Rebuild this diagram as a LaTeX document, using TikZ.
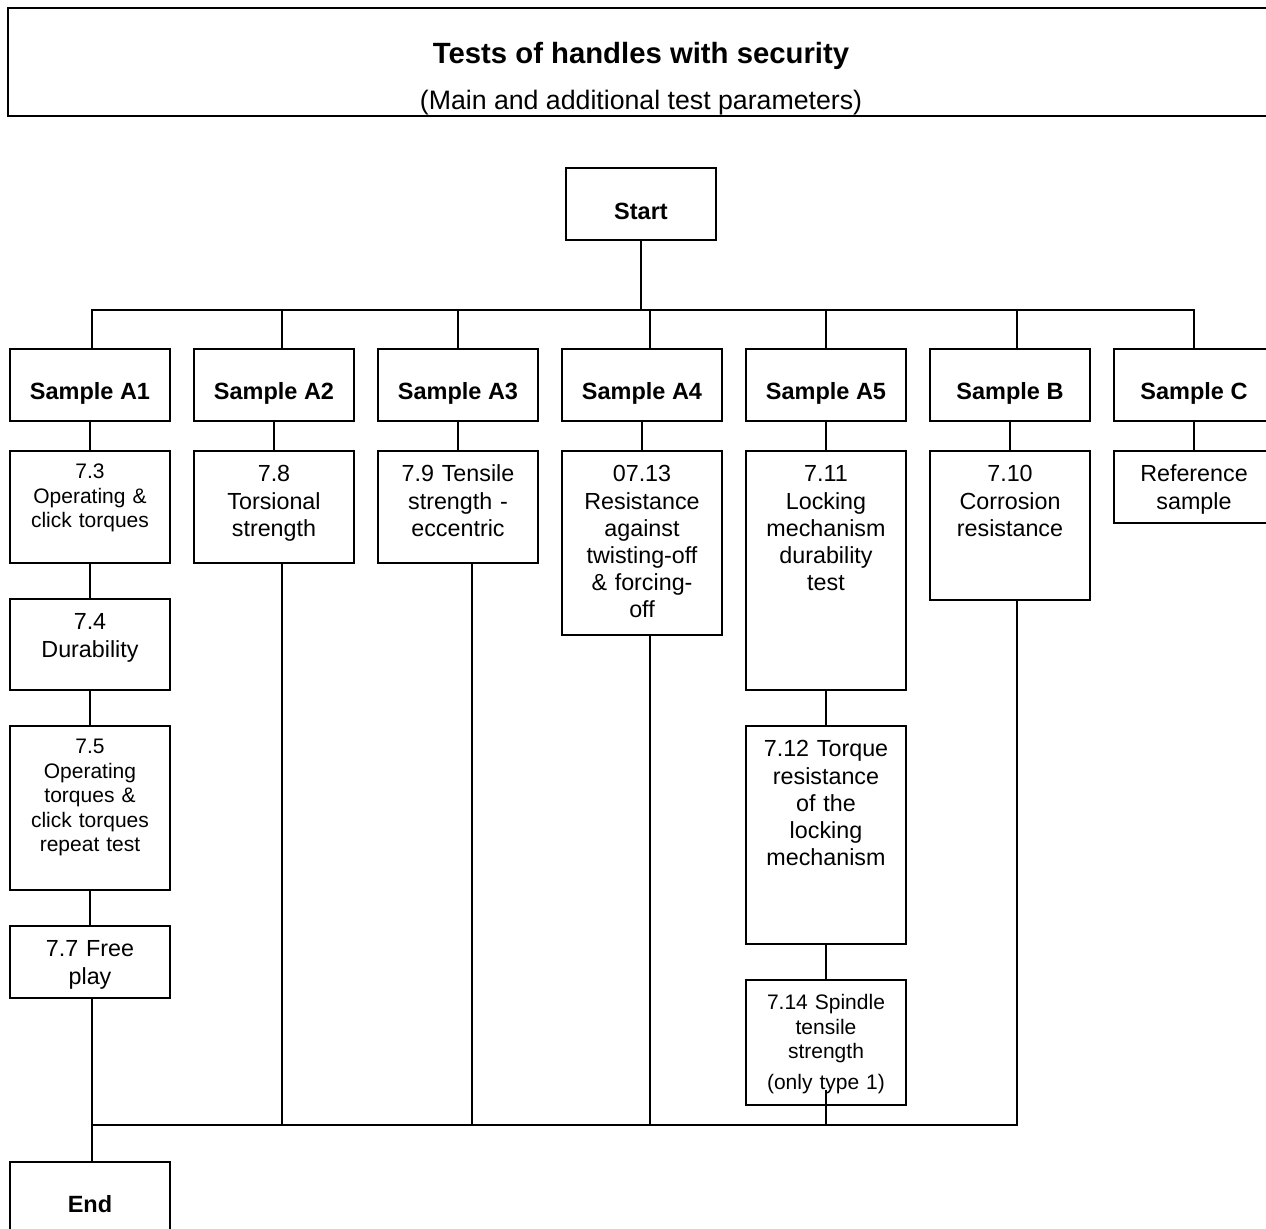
\documentclass[tikz,border=0pt]{standalone}
\usepackage{fontspec}
\setmainfont{Liberation Sans}
\usetikzlibrary{positioning}
\begin{document}
\begin{tikzpicture}[
	x=0.5pt,
	y=-0.5pt,
	line width=1pt,
	font=\fontsize{11.65}{13.6}\selectfont,
	node distance=18pt,
	ttl/.style={font=\fontsize{14.65}{17}\selectfont\bfseries, anchor=base, inner sep=0pt},
	sub/.style={font=\fontsize{13.35}{16}\selectfont, anchor=base, inner sep=0pt},
	smp/.style={draw, anchor=north west, outer sep=0pt, minimum width=80pt, minimum height=36pt, inner sep=0pt, text height=15pt, text depth=0pt, font=\fontsize{11.75}{14}\selectfont\bfseries},
	tst/.style={draw, outer sep=0pt, text width=76pt, align=center, inner xsep=2pt, inner ysep=0pt, text height=15.5pt, text depth=#1},
	sml/.style={font=\fontsize{10.5}{12.25}\selectfont, text height=14pt},
	]
\useasboundingbox (0,0) rectangle (1266,1229);
\node[draw, anchor=north west, outer sep=0pt, minimum width=634pt, minimum height=54pt, inner sep=0pt] (head) at (8,8) {};
\node[ttl] (title) at (641,63.5) {Tests of handles with security};
\node[sub] (subtitle) at (641,109.5) {(Main and additional test parameters)};

\node[smp, minimum width=75pt, text height=16pt] (start) at (566,168) {Start};

\node[smp] (sa1) at (10,349) {Sample A1};
\node[smp, right=12pt of sa1] (sa2) {Sample A2};
\node[smp, right=12pt of sa2] (sa3) {Sample A3};
\node[smp, right=12pt of sa3] (sa4) {Sample A4};
\node[smp, right=12pt of sa4] (sa5) {Sample A5};
\node[smp, right=12pt of sa5] (sb) {Sample B};
\node[smp, right=12pt of sb] (sc) {Sample C};

\node[tst=42pt, sml, below=15pt of sa1] (t73) {7.3\\Operating \&\\click torques};
\node[tst=30pt, below=of t73] (t74) {7.4\\Durability};
\node[tst=68pt, sml, below=of t74] (t75) {7.5\\Operating\\torques \&\\click torques\\repeat test};
\node[tst=20.5pt, below=of t75] (t77) {7.7 Free\\play};
\node[tst=40.5pt, below=15pt of sa2] (t78) {7.8\\Torsional\\strength};
\node[tst=40.5pt, below=15pt of sa3] (t79) {7.9 Tensile\\strength -\\eccentric};
\node[tst=76.5pt, below=15pt of sa4] (t713) {07.13\\Resistance\\against\\twisting-off\\\& forcing-\\off};
\node[tst=104pt, below=15pt of sa5] (t711) {7.11\\Locking\\mechanism\\durability\\test};
\node[tst=93.5pt, below=of t711] (t712) {7.12 Torque\\resistance\\of the\\locking\\mechanism};
\node[tst=47.5pt, sml, text height=15pt, below=of t712] (t714) {7.14 Spindle\\tensile\\strength\\[3pt](only type 1)};
\node[tst=59pt, below=15pt of sb] (t710) {7.10\\Corrosion\\resistance};
\node[tst=20.5pt, below=15pt of sc] (tref) {Reference\\sample};

\node[smp] (end) at (10,1162) {End};

\coordinate (fork) at (641,310);
\coordinate (join) at (92,1125);
\draw (start.south) -- (fork);
\draw ([xshift=1pt]sa1.north) |- (fork) -| (sc.north);
\foreach \nd/\dx in {sa2/4pt,sa3/0pt,sa4/4pt,sa5/0pt,sb/3.5pt}
	\draw ([xshift=\dx]\nd.north) -- ([xshift=\dx]\nd.north |- fork);
\foreach \src/\dst in {sa1/t73,t73/t74,t74/t75,t75/t77,sa2/t78,sa3/t79,sa4/t713,sa5/t711,t711/t712,t712/t714,sb/t710,sc/tref}
	\draw (\src.south) -- (\dst.north);
\draw ([xshift=1pt]t77.south) -- ([xshift=1pt]end.north);
\draw ([xshift=1pt]t77.south |- join) -| ([xshift=3.5pt]t710.south);
\foreach \nd/\dx in {t78/4pt,t79/7pt,t713/4pt}
	\draw ([xshift=\dx]\nd.south) -- ([xshift=\dx]\nd.south |- join);
\draw ([yshift=7.5pt]t714.south) -- (t714.south |- join);
\end{tikzpicture}
\end{document}
